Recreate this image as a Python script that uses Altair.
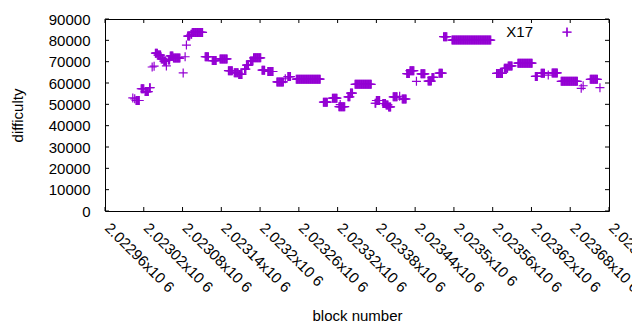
import altair as alt
import pandas as pd

BASE = 2022960
FONT = "Liberation Sans"
COLOR = "#9400D3"

# runs of constant difficulty: block offset start/end (from BASE) and value
run_start = [43, 46, 48, 56, 62, 69, 73, 76, 78, 82, 87, 91, 95, 98, 101, 106,
             121, 124, 126, 128, 133, 135, 155, 166, 178, 191, 200, 207, 216, 219,
             225, 230, 243, 252, 266, 279, 283, 296, 338, 352, 362, 364, 376, 380,
             387, 418, 420, 430, 435, 439, 446, 456, 460, 467, 472, 482, 489, 500,
             506, 517, 524, 537, 606, 618, 624, 639, 666, 675, 686, 692, 706, 715,
             737, 740, 751, 766]
run_end = [43, 46, 53, 60, 67, 70, 73, 76, 81, 86, 90, 94, 95, 100, 105, 116,
           121, 124, 126, 131, 134, 151, 160, 172, 189, 197, 206, 212, 218, 222,
           229, 241, 247, 260, 276, 279, 287, 333, 344, 359, 371, 364, 379, 383,
           412, 419, 425, 434, 438, 442, 452, 456, 466, 471, 478, 482, 495, 505,
           509, 522, 529, 597, 615, 623, 630, 661, 669, 680, 686, 700, 731, 715,
           737, 740, 762, 766]
run_diff = [53000, 52600, 51800, 57300, 56000, 57800, 67500, 67900, 74000, 73100,
            71300, 70300, 68000, 70800, 72700, 71700, 64700, 72300, 77800, 82000,
            82800, 83700, 72300, 70500, 71300, 65800, 64800, 64000, 66500, 68400,
            70300, 71800, 66000, 65400, 60500, 62000, 63000, 61800, 51000, 52900,
            48900, 49900, 53500, 55300, 59400, 50500, 51800, 50400, 49700, 48800,
            53500, 53800, 52500, 64400, 65800, 60800, 64300, 60900, 62600, 64600,
            81700, 80100, 64500, 66900, 68000, 69300, 63100, 64600, 63700, 64700,
            60800, 83800, 57500, 58700, 61700, 57800]

x_ticks = [2022960, 2023020, 2023080, 2023140, 2023200, 2023260, 2023320,
           2023380, 2023440, 2023500, 2023560, 2023620, 2023680, 2023740]
y_ticks = [0, 10000, 20000, 30000, 40000, 50000, 60000, 70000, 80000, 90000]

rows = []
for s, e, d in zip(run_start, run_end, run_diff):
    for b in range(s, e + 1):
        rows.append({"block": BASE + b, "difficulty": d})
df = pd.DataFrame(rows)

W, H = 504, 192
PLUS = "M-1,0H1M0,-1V1"

xscale = alt.Scale(domain=[x_ticks[0], x_ticks[-1]], nice=False, zero=False)
yscale = alt.Scale(domain=[y_ticks[0], y_ticks[-1]], nice=False)

xaxis = alt.Axis(
    values=x_ticks,
    labelExpr="format(datum.value/1000000, '.6~g') + 'x10 6'",
    labelAngle=45, labelAlign="left", labelBaseline="middle",
    labelPadding=14, labelOffset=2, tickSize=0, domain=False, grid=False,
    labelOverlap=False, labelFlush=False, labelBound=False,
    labelFont=FONT, labelFontSize=15, labelColor="black",
    title="block number", titleY=104, titleBaseline="middle",
    titleFont=FONT, titleFontSize=15, titleFontWeight="normal", titleColor="black",
)
yaxis = alt.Axis(
    values=y_ticks, format="d", tickSize=0, labelPadding=15,
    domain=False, grid=False, labelOverlap=False,
    labelFont=FONT, labelFontSize=15, labelColor="black",
    title="difficulty", titleX=-88, titleY=96, titleAngle=-90,
    titleAlign="center", titleBaseline="middle",
    titleFont=FONT, titleFontSize=15, titleFontWeight="normal", titleColor="black",
)

points = alt.Chart(df).mark_point(
    shape=PLUS, size=81, filled=False, color=COLOR, strokeWidth=1.2, opacity=1
).encode(
    x=alt.X("block:Q", scale=xscale, axis=xaxis),
    y=alt.Y("difficulty:Q", scale=yscale, axis=yaxis),
)

xt = pd.DataFrame({"block": x_ticks})
yt = pd.DataFrame({"difficulty": y_ticks})
tick_style = dict(color="black", strokeWidth=1)
x_bottom = alt.Chart(xt).mark_rule(**tick_style).encode(
    x=alt.X("block:Q", scale=xscale, axis=xaxis), y=alt.value(H - 4), y2=alt.value(H))
x_top = alt.Chart(xt).mark_rule(**tick_style).encode(
    x=alt.X("block:Q", scale=xscale, axis=xaxis), y=alt.value(0), y2=alt.value(4))
y_left = alt.Chart(yt).mark_rule(**tick_style).encode(
    y=alt.Y("difficulty:Q", scale=yscale, axis=yaxis), x=alt.value(0), x2=alt.value(4))
y_right = alt.Chart(yt).mark_rule(**tick_style).encode(
    y=alt.Y("difficulty:Q", scale=yscale, axis=yaxis), x=alt.value(W - 4), x2=alt.value(W))

leg = pd.DataFrame({"label": ["X17"]})
leg_text = alt.Chart(leg).mark_text(
    align="right", baseline="middle", font=FONT, fontSize=15, color="black"
).encode(text="label:N", x=alt.value(428), y=alt.value(13))
leg_mark = alt.Chart(leg).mark_point(
    shape=PLUS, size=81, filled=False, color=COLOR, strokeWidth=1.2, opacity=1
).encode(x=alt.value(462), y=alt.value(13))

chart = alt.layer(points, x_bottom, x_top, y_left, y_right, leg_text, leg_mark).properties(
    width=W, height=H,
    autosize="none",
    padding={"left": 97, "top": 11, "right": 23, "bottom": 111},
).configure_view(
    stroke="black", strokeWidth=1
)

chart.save("out.html", embed_options={"renderer": "svg", "actions": False})
